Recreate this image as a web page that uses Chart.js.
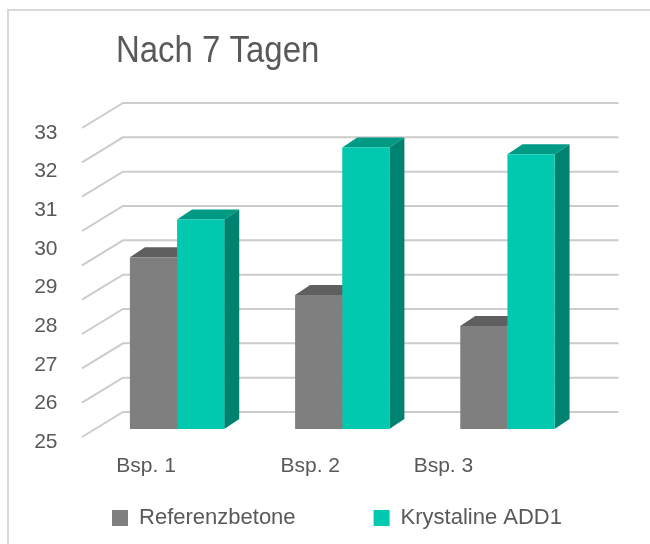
<!DOCTYPE html>
<html>
<head>
<meta charset="utf-8">
<title>Nach 7 Tagen</title>
<script src="https://cdn.jsdelivr.net/npm/chart.js@4/dist/chart.umd.min.js"></script>
<style>
  html, body { margin: 0; padding: 0; background: #fff; }
  #wrap { width: 650px; height: 544px; }
</style>
</head>
<body>
<div id="wrap"><canvas id="chart" width="650" height="544"></canvas></div>
<script>
// chart data
var chartTitle = 'Nach 7 Tagen';
var categories = ['Bsp. 1', 'Bsp. 2', 'Bsp. 3'];
var seriesNames = ['Referenzbetone', 'Krystaline ADD1'];
var referenzValues = [30.0, 28.9, 28.0];
var krystalineValues = [31.1, 33.2, 33.0];
// gridlines on the back wall run 25..34, the printed labels 25..33
var gridMin = 25, gridMax = 34;
var tickLabelMin = 25, tickLabelMax = 33;

// styling
var textColor = '#595959';
var frontColors = ['#7f7f7f', '#00c9b0'];
var topColors = ['#5f5f5f', '#009a85'];
var sideColors = ['#666666', '#008270'];
var DEPTH_X = 15, DEPTH_Y = 10;   // bar depth
var WALL_X = 28.5, WALL_Y = 17;   // back wall offset from the bar plane
var FLOOR_X = 12.5, FLOOR_Y = 8;  // front edge offset from the bar plane
var labelShift = [-31, -32, -64]; // category labels sit left of the bars

Chart.defaults.font.family = '"Liberation Sans", Arial, sans-serif';

function polygon(ctx, pts, color) {
  ctx.fillStyle = color;
  ctx.beginPath();
  ctx.moveTo(pts[0][0], pts[0][1]);
  for (var i = 1; i < pts.length; i++) ctx.lineTo(pts[i][0], pts[i][1]);
  ctx.closePath();
  ctx.fill();
}

// draws the pseudo 3D parts: frame, title, back wall grid, bar tops/sides, category labels
var bar3d = {
  id: 'bar3d',
  beforeDraw: function(chart) {
    var ctx = chart.ctx;
    ctx.save();
    ctx.fillStyle = '#ffffff';
    ctx.fillRect(0, 0, chart.width, chart.height);
    ctx.strokeStyle = '#d9d9d9';
    ctx.lineWidth = 2;
    ctx.strokeRect(8, 10, chart.width + 20, chart.height + 20);
    ctx.fillStyle = textColor;
    ctx.font = '36px "Liberation Sans", Arial, sans-serif';
    ctx.textBaseline = 'alphabetic';
    ctx.translate(116, 62);
    ctx.scale(0.915, 1);
    ctx.fillText(chartTitle, 0, 0);
    ctx.restore();
  },
  beforeDatasetsDraw: function(chart) {
    var ctx = chart.ctx;
    var area = chart.chartArea;
    var yScale = chart.scales.y;
    ctx.save();
    ctx.strokeStyle = '#cccccc';
    ctx.lineWidth = 2;
    for (var v = yScale.min; v <= yScale.max; v++) {
      var py = yScale.getPixelForValue(v);
      ctx.beginPath();
      ctx.moveTo(area.left - FLOOR_X, py + FLOOR_Y);
      ctx.lineTo(area.left + WALL_X, py - WALL_Y);
      ctx.lineTo(area.right + WALL_X, py - WALL_Y);
      ctx.stroke();
    }
    // tops and sides first, the library then paints the fronts over them
    chart.data.datasets.forEach(function(ds, di) {
      chart.getDatasetMeta(di).data.forEach(function(bar) {
        var p = bar.getProps(['x', 'y', 'base', 'width'], true);
        var l = p.x - p.width / 2, r = p.x + p.width / 2;
        var b = Math.min(p.base, area.bottom);
        polygon(ctx, [[l, p.y], [l + DEPTH_X, p.y - DEPTH_Y], [r + DEPTH_X, p.y - DEPTH_Y], [r, p.y]], topColors[di]);
        polygon(ctx, [[r, p.y], [r + DEPTH_X, p.y - DEPTH_Y], [r + DEPTH_X, b - DEPTH_Y], [r, b]], sideColors[di]);
      });
    });
    ctx.restore();
  },
  afterDatasetsDraw: function(chart) {
    var ctx = chart.ctx;
    var xScale = chart.scales.x;
    ctx.save();
    ctx.fillStyle = textColor;
    ctx.font = '21px "Liberation Sans", Arial, sans-serif';
    ctx.textAlign = 'center';
    ctx.textBaseline = 'middle';
    chart.data.labels.forEach(function(lab, i) {
      ctx.fillText(lab, xScale.getPixelForValue(i) + labelShift[i], chart.chartArea.bottom + 37);
    });
    ctx.restore();
  }
};

var chart = new Chart(document.getElementById('chart').getContext('2d'), {
  type: 'bar',
  data: {
    labels: categories,
    datasets: [
      { label: seriesNames[0], data: referenzValues, backgroundColor: frontColors[0], borderWidth: 0 },
      { label: seriesNames[1], data: krystalineValues, backgroundColor: frontColors[1], borderWidth: 0 }
    ]
  },
  options: {
    responsive: false,
    animation: false,
    events: [],
    layout: { padding: { left: 24, right: 0, top: 120, bottom: 5 } },
    datasets: { bar: { categoryPercentage: 0.571, barPercentage: 1 } },
    plugins: {
      title: { display: false },
      tooltip: { enabled: false },
      legend: {
        position: 'bottom',
        labels: {
          boxWidth: 16,
          boxHeight: 16,
          padding: 78,
          color: textColor,
          font: { size: 22 }
        }
      }
    },
    scales: {
      x: { display: false, offset: true },
      y: { display: false, min: gridMin, max: gridMax },
      yl: {
        type: 'linear',
        position: 'left',
        min: tickLabelMin,
        max: tickLabelMax,
        grid: { display: false, drawTicks: false },
        border: { display: false },
        ticks: { stepSize: 1, padding: 37, labelOffset: 13, color: textColor, font: { size: 21 } },
        afterFit: function(scale) { scale.width = 70.5; }
      },
      // empty right axis only reserves the room right of the back wall
      yr: {
        type: 'linear',
        position: 'right',
        min: gridMin,
        max: gridMax,
        grid: { display: false, drawTicks: false },
        border: { display: false },
        ticks: { display: false },
        afterFit: function(scale) { scale.width = 60; }
      }
    }
  },
  plugins: [bar3d]
});
</script>
</body>
</html>
